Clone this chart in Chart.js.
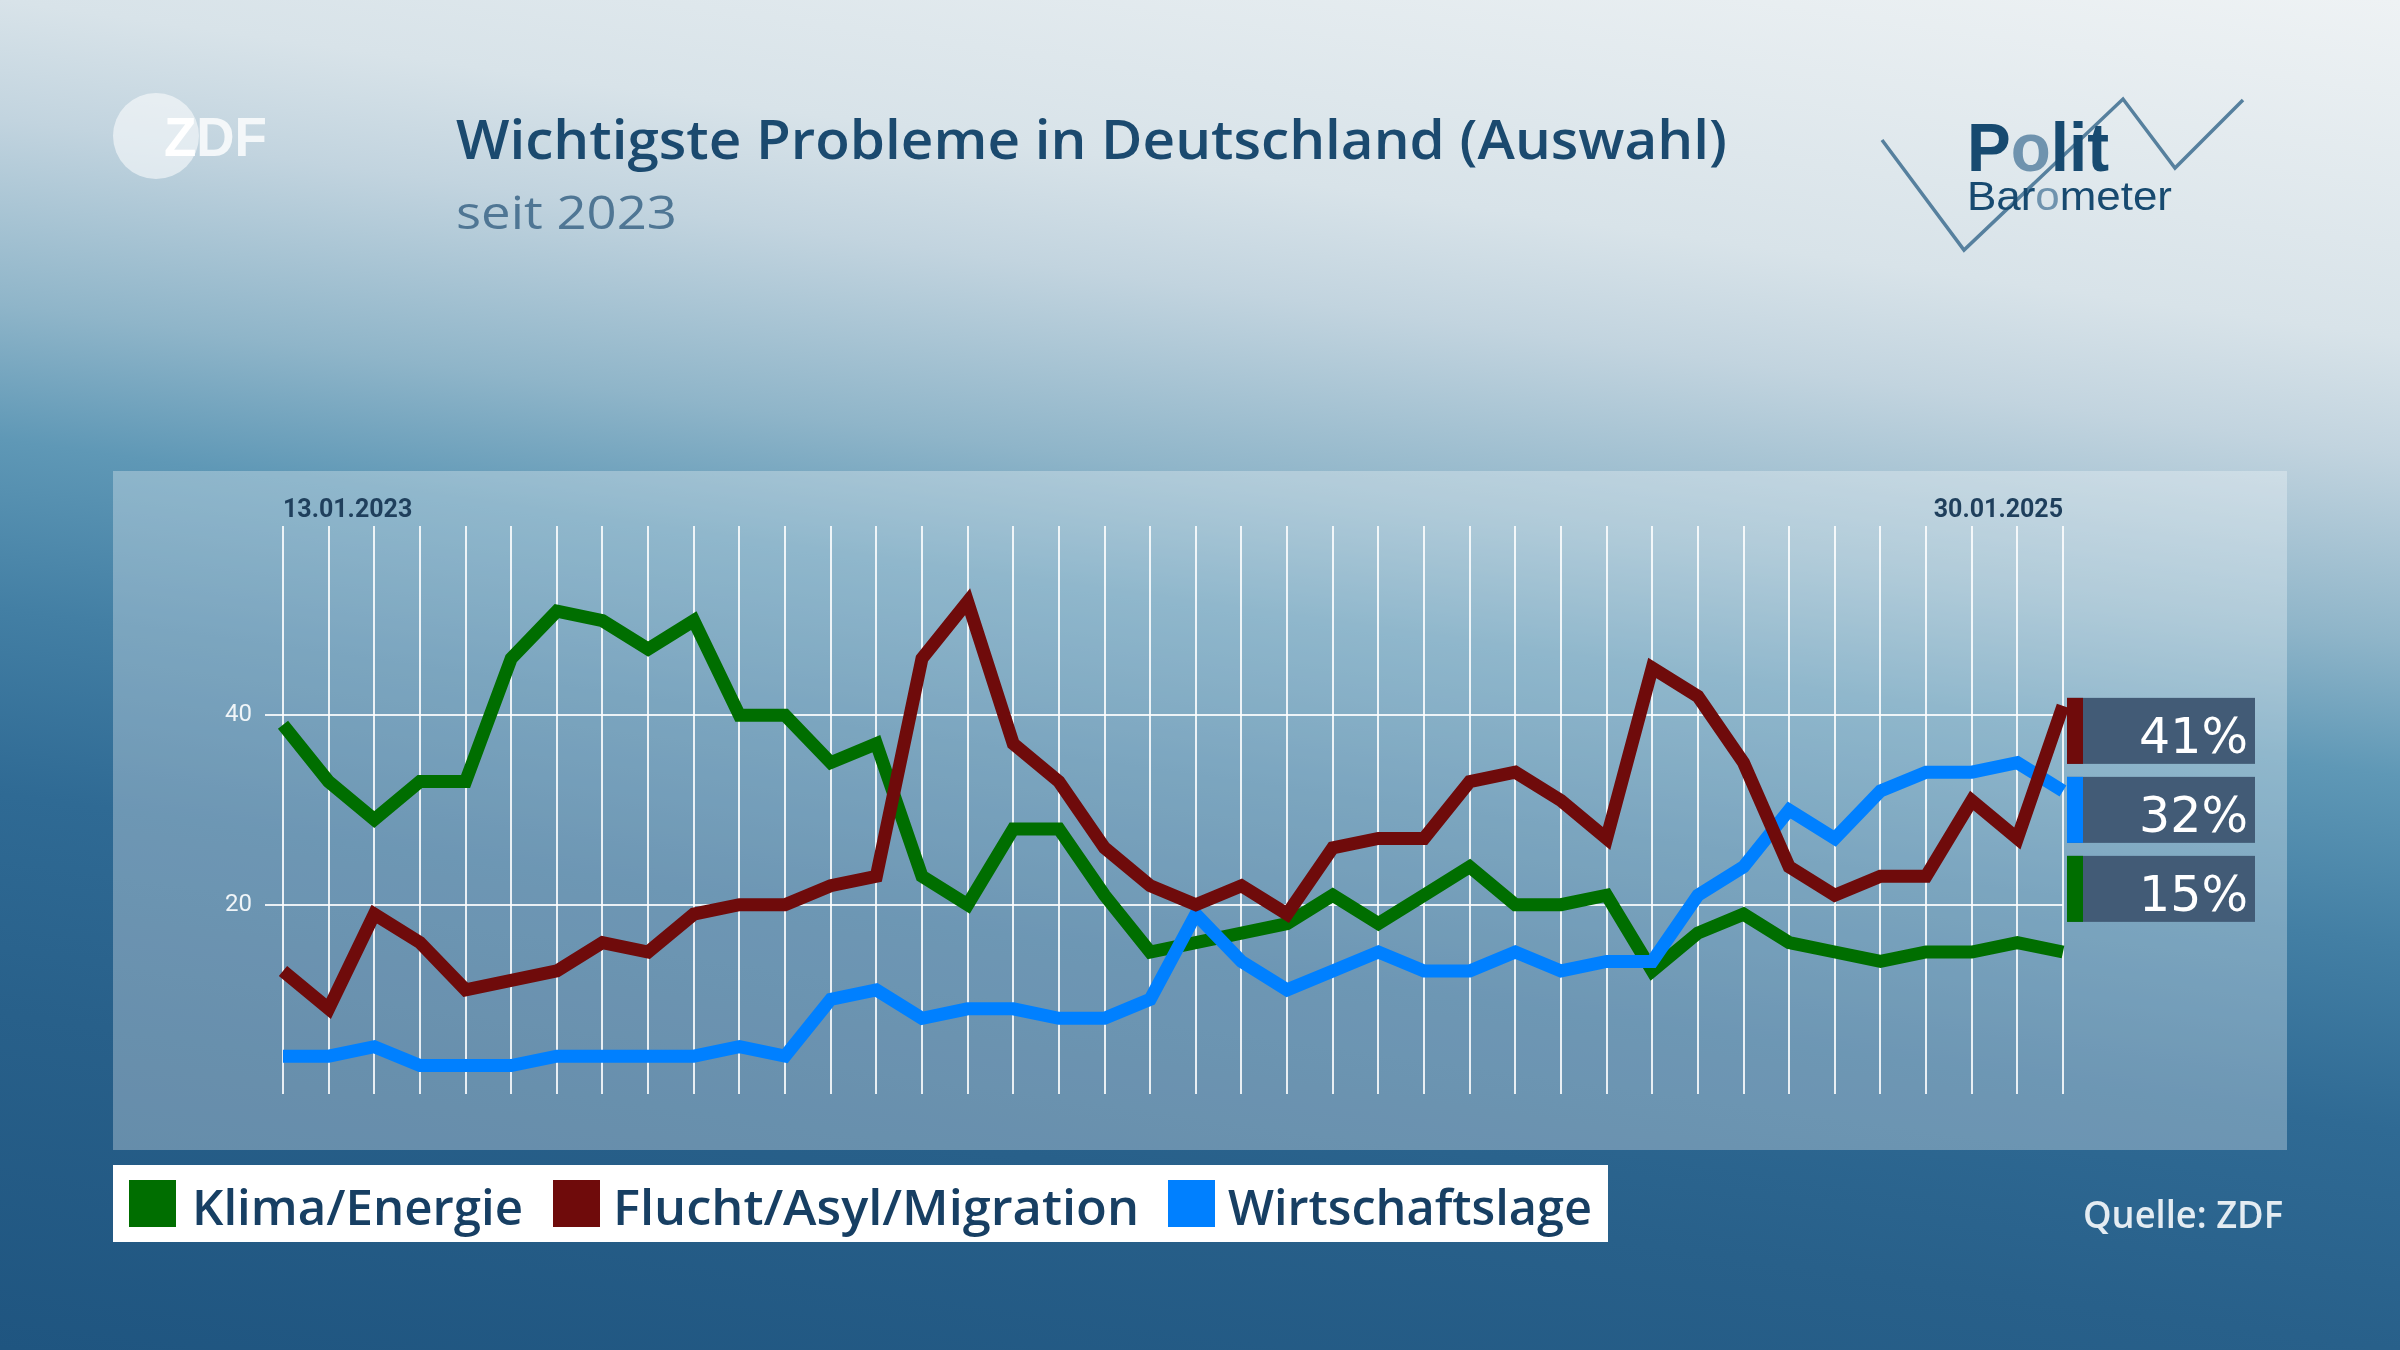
<!DOCTYPE html>
<html lang="de">
<head>
<meta charset="utf-8">
<title>Wichtigste Probleme in Deutschland (Auswahl)</title>
<script src="https://cdn.jsdelivr.net/npm/chart.js@4.4.1/dist/chart.umd.min.js"></script>
<style>
html,body{margin:0;padding:0;width:2400px;height:1350px;overflow:hidden;}
#bg{position:absolute;left:0;top:0;width:2400px;height:1350px;
 background:linear-gradient(188deg,#eef2f4 0%,#d8e3e9 20%,#c2d4df 27%,#8fb5c9 38%,#5f98b6 46%,#437fa4 56%,#2f6a94 67%,#28608a 80%,#1f5580 100%);}
#panel{position:absolute;left:113px;top:471px;width:2174px;height:679px;background:rgba(255,255,255,0.3);}
#chart{position:absolute;left:0;top:0;}
#deco{position:absolute;left:0;top:0;pointer-events:none;}
</style>
</head>
<body>
<div id="bg"></div>
<div id="panel"></div>
<canvas id="chart" width="2400" height="1350"></canvas>
<svg id="deco" width="2400" height="1350" xmlns="http://www.w3.org/2000/svg">
  <!-- ZDF logo -->
  <circle cx="156" cy="136" r="43" fill="#ffffff" fill-opacity="0.55"/>
  <text x="164" y="156" font-family="'Liberation Sans', Arial, sans-serif" font-weight="bold" font-size="56" textLength="103" lengthAdjust="spacingAndGlyphs"><tspan fill="#ffffff">Z</tspan><tspan fill="#ffffff" fill-opacity="0.8">DF</tspan></text>
  <!-- Title -->
  <text x="456" y="159" font-family="'Open Sans', sans-serif" font-weight="600" font-size="54" fill="#1b4a6f" textLength="1271" lengthAdjust="spacingAndGlyphs">Wichtigste Probleme in Deutschland (Auswahl)</text>
  <text x="456" y="229" font-family="'Open Sans', sans-serif" font-weight="400" font-size="45" fill="#4f7694" textLength="221" lengthAdjust="spacingAndGlyphs">seit 2023</text>
  <!-- Politbarometer logo -->
  <polyline points="1882,140 1964,250 2123,99 2175,168 2243,100" fill="none" stroke="#56809e" stroke-width="3.5"/>
  <text x="1967" y="171" font-family="'Liberation Sans', Arial, sans-serif" font-weight="bold" font-size="68" textLength="142" lengthAdjust="spacingAndGlyphs"><tspan fill="#174a70">P</tspan><tspan fill="#6f93ae">o</tspan><tspan fill="#174a70">lit</tspan></text>
  <text x="1967" y="210" font-family="'Liberation Sans', Arial, sans-serif" font-size="40" textLength="205" lengthAdjust="spacingAndGlyphs"><tspan fill="#174a70">Bar</tspan><tspan fill="#6f93ae">o</tspan><tspan fill="#174a70">meter</tspan></text>
  <!-- Source -->
  <text x="2283" y="1228" text-anchor="end" font-family="'Open Sans', sans-serif" font-weight="600" font-size="38" fill="#e4ecf2" textLength="200" lengthAdjust="spacingAndGlyphs">Quelle: ZDF</text>
  <!-- Legend -->
  <g id="legend"></g>
</svg>
<script>
// ---- Data ----
const categories = [
  '13.01.2023','','','','','','','','','',
  '','','','','','','','','','',
  '','','','','','','','','','',
  '','','','','','','','','','30.01.2025'
];
const klimaEnergie = [39,33,29,33,33,46,51,50,47,50, 40,40,35,37,23,20,28,28,21,15, 16,17,18,21,18,21,24,20,20,21, 13,17,19,16,15,14,15,15,16,15];
const fluchtAsylMigration = [13,9,19,16,11,12,13,16,15,19, 20,20,22,23,46,52,37,33,26,22, 20,22,19,26,27,27,33,34,31,27, 45,42,35,24,21,23,23,31,27,41];
const wirtschaftslage = [4,4,5,3,3,3,4,4,4,4, 5,4,10,11,8,9,9,8,8,10, 19,14,11,13,15,13,13,15,13,14, 14,21,24,30,27,32,34,34,35,32];
const yTickValues = [20, 40];
const seriesNames = ['Klima/Energie', 'Flucht/Asyl/Migration', 'Wirtschaftslage'];
const seriesColors = ['#006e00', '#6f0b0b', '#0080ff'];

// ---- Legend (SVG, built from the series arrays) ----
(function buildLegend(){
  const NS = 'http://www.w3.org/2000/svg';
  const g = document.getElementById('legend');
  const rect = document.createElementNS(NS, 'rect');
  rect.setAttribute('x', 113); rect.setAttribute('y', 1165);
  rect.setAttribute('width', 1495); rect.setAttribute('height', 77);
  rect.setAttribute('fill', '#ffffff');
  g.appendChild(rect);
  const squareX = [129, 553, 1168];
  const textX = [192, 613, 1228];
  const textW = [331, 526, 364];
  seriesNames.forEach((name, i) => {
    const sq = document.createElementNS(NS, 'rect');
    sq.setAttribute('x', squareX[i]); sq.setAttribute('y', 1180);
    sq.setAttribute('width', 47); sq.setAttribute('height', 47);
    sq.setAttribute('fill', seriesColors[i]);
    g.appendChild(sq);
    const t = document.createElementNS(NS, 'text');
    t.setAttribute('x', textX[i]); t.setAttribute('y', 1225);
    t.setAttribute('font-family', "'Open Sans', sans-serif");
    t.setAttribute('font-weight', '600');
    t.setAttribute('font-size', '48');
    t.setAttribute('fill', '#173f63');
    t.setAttribute('textLength', textW[i]);
    t.setAttribute('lengthAdjust', 'spacingAndGlyphs');
    t.textContent = name;
    g.appendChild(t);
  });
})();

// ---- Value boxes at the right end ----
const valueBoxes = {
  id: 'valueBoxes',
  afterDatasetsDraw(chart) {
    const {ctx, chartArea, scales: {y}} = chart;
    const items = chart.data.datasets.map(d => ({v: d.data[d.data.length - 1], c: d.borderColor}))
      .sort((a, b) => b.v - a.v);
    let top = y.getPixelForValue(items[0].v) - 8;
    const left = chartArea.right + 4, w = 188, h = 66, gap = 13;
    items.forEach(it => {
      ctx.save();
      ctx.fillStyle = '#425b76';
      ctx.fillRect(left, top, w, h);
      ctx.fillStyle = it.c;
      ctx.fillRect(left, top, 16, h);
      ctx.fillStyle = '#ffffff';
      ctx.font = '49px "DejaVu Sans"';
      ctx.textAlign = 'right';
      ctx.textBaseline = 'alphabetic';
      ctx.fillText(it.v + '%', left + w - 7, top + 55);
      ctx.restore();
      top += h + gap;
    });
  }
};

const gridWhite = 'rgba(255,255,255,0.85)';

new Chart(document.getElementById('chart'), {
  type: 'line',
  data: {
    labels: categories,
    datasets: [
      {label: seriesNames[0], data: klimaEnergie, borderColor: seriesColors[0], backgroundColor: seriesColors[0], order: 2},
      {label: seriesNames[1], data: fluchtAsylMigration, borderColor: seriesColors[1], backgroundColor: seriesColors[1], order: 0},
      {label: seriesNames[2], data: wirtschaftslage, borderColor: seriesColors[2], backgroundColor: seriesColors[2], order: 1}
    ]
  },
  options: {
    responsive: false,
    animation: false,
    devicePixelRatio: 1,
    layout: {padding: {left: 213, right: 337, top: 486, bottom: 256}},
    elements: {
      line: {borderWidth: 13, tension: 0, borderJoinStyle: 'miter', borderCapStyle: 'butt', fill: false},
      point: {radius: 0, hoverRadius: 0}
    },
    plugins: {legend: {display: false}, tooltip: {enabled: false}},
    scales: {
      x: {
        position: 'top',
        grid: {color: gridWhite, lineWidth: 2, drawTicks: false},
        border: {display: false},
        ticks: {
          autoSkip: false, maxRotation: 0, minRotation: 0, align: 'inner', padding: 0,
          color: '#1f3f5c', font: {family: 'Roboto', size: 25, weight: 'bold'}
        },
        afterFit: s => { s.height = 40; }
      },
      y: {
        min: 0, max: 60,
        ticks: {
          stepSize: 20, padding: 13, color: '#f0f5f8',
          font: {family: 'Roboto', size: 24},
          callback: v => yTickValues.includes(v) ? String(v) : ''
        },
        grid: {
          color: c => (c.tick && yTickValues.includes(c.tick.value)) ? gridWhite : 'rgba(0,0,0,0)',
          lineWidth: 2, tickLength: 18
        },
        border: {display: false},
        afterFit: s => { s.width = 70; }
      }
    }
  },
  plugins: [valueBoxes]
});
</script>
</body>
</html>
